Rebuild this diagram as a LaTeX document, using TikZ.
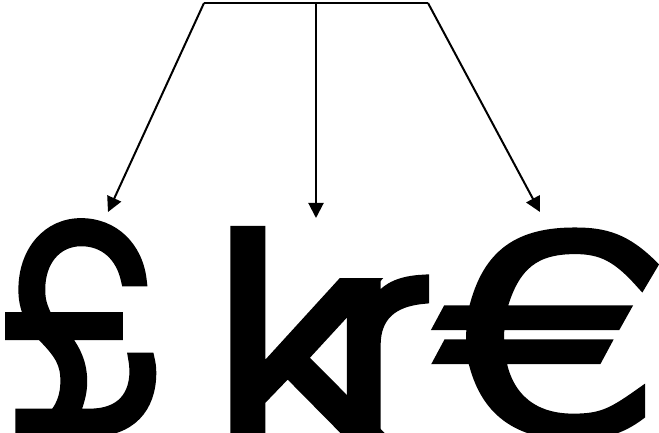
\documentclass[tikz,border=0pt]{standalone}
\usepackage{fontspec}
\newfontfamily\glyphfont[FakeBold=3.4]{texgyreadventor-regular.otf}
\usetikzlibrary{arrows.meta}
\begin{document}
\begin{tikzpicture}[x=1pt,y=-1pt,
  glyph/.style={inner sep=0pt,outer sep=0pt,anchor=base west,font=\glyphfont\fontsize{270}{300}\selectfont},
  link/.style={line width=2pt,-{Triangle[length=15pt,width=15pt]}}]
\useasboundingbox (0,0) rectangle (659,433);
\clip (0,0) rectangle (659,433);
\node[glyph] (pound) at (5,432) {\scalebox{0.92}[1.03]{£}};
\node[glyph] (kr) at (215.4,432) {\makebox[0pt][l]{\scalebox{1.2}[1.01]{k}}\hspace{117pt}\scalebox{1.16}[1.01]{r}};
\node[glyph] (euro) at (451,432) {\scalebox{1.3}[0.985]{€}};
\coordinate (tl) at (204,3);
\coordinate (tm) at (316,3);
\coordinate (tr) at (428,3);
\coordinate (el) at (108,212);
\coordinate (em) at (316,218);
\coordinate (er) at (540,212);
\draw[line width=2pt] (tl) -- (tr);
\draw[link] (tl) -- (el);
\draw[link] (tm) -- (em);
\draw[link] (tr) -- (er);
\end{tikzpicture}
\end{document}
